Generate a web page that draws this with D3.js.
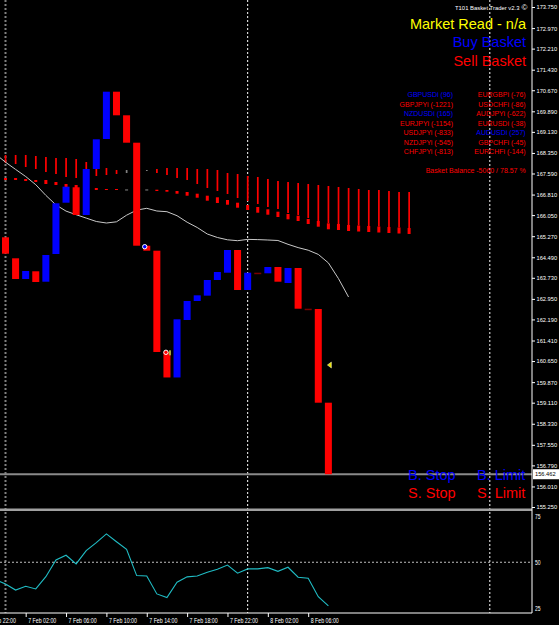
<!DOCTYPE html>
<html>
<head>
<meta charset="utf-8">
<script src="https://cdn.jsdelivr.net/npm/d3@7"></script>
<style>
    body { margin: 0; background: #000; }
    svg { display: block; font-family: "Liberation Sans", Arial, sans-serif; }
    .small { font-size: 7px; }
</style>
</head>
<body>
<div id="chart"></div>
<script>
// hourly bars, index 0 = 7 Feb 00:00
let barOpen = [165.229, 164.452, 163.686, 163.971, 163.586, 164.611, 166.509, 167.079, 166.054, 167.756,
    168.866, 170.616, 169.743, 168.729, 164.918, 164.733, 160.985, 160.043, 162.169, 162.872,
    163.07, 163.649, 163.919, 164.759, 163.279, 163.919, 163.897, 164.13, 163.538, 164.093,
    162.587, 162.576, 159.109];
let barClose = [164.622, 163.686, 163.982, 163.575, 164.574, 166.487, 167.101, 166.054, 167.756, 168.855,
    170.616, 169.743, 168.729, 164.918, 164.733, 160.985, 160.043, 162.195, 162.872, 163.082,
    163.649, 163.945, 164.759, 163.279, 163.919, 163.9, 164.13, 163.586, 164.093, 162.587,
    162.57, 159.109, 156.462];

// basket indicator: thin line (hi/lo) + short body (top/bottom), index 0..40
let sigHi = [168.274, 168.274, 168.274, 168.237, 168.2, 168.163, 168.163, 168.126, 168.015, 167.867,
    167.793, 167.719, 167.719, 167.793, 167.719, 167.756, 167.793, 167.793, 167.793, 167.756,
    167.756, 167.719, 167.608, 167.571, 167.497, 167.46, 167.386, 167.312, 167.275, 167.238,
    167.201, 167.164, 167.127, 167.09, 167.053, 167.016, 166.979, 166.979, 166.942, 166.905, 166.905];
let sigLo = [167.978, 167.941, 167.83, 167.756, 167.645, 167.571, 167.46, 167.423, 167.423, 167.497,
    167.534, 167.571, 167.608, 167.571, 167.682, 167.608, 167.534, 167.423, 167.349, 167.201,
    167.053, 166.942, 166.831, 166.683, 166.572, 166.461, 166.35, 166.276, 166.128, 166.054,
    165.943, 165.832, 165.758, 165.721, 165.684, 165.665, 165.647, 165.628, 165.61, 165.591, 165.573];
let bodyTop = [167.423, 167.423, 167.386, 167.349, 167.349, 167.275, 167.201, 167.164, 167.09, 167.053,
    167.016, 167.016, 167.0, 167.016, 167.0, 166.99, 166.979, 166.942, 166.905, 166.842,
    166.768, 166.709, 166.609, 166.509, 166.424, 166.35, 166.265, 166.176, 166.091, 166.028,
    165.906, 165.832, 165.747, 165.721, 165.684, 165.665, 165.647, 165.628, 165.61, 165.591, 165.573];
let bodyBot = [167.349, 167.349, 167.312, 167.275, 167.201, 167.164, 167.09, 167.053, 166.979, 166.979,
    166.979, 166.979, 166.961, 166.979, 166.961, 166.942, 166.916, 166.842, 166.768, 166.694,
    166.583, 166.498, 166.435, 166.324, 166.239, 166.139, 166.065, 165.98, 165.895, 165.832,
    165.721, 165.621, 165.525, 165.499, 165.462, 165.443, 165.425, 165.406, 165.388, 165.369, 165.351];
let neutralBars = [12, 13, 14];

// moving average, index -1..34
let maStart = -1;
let maValues = [168.311, 168.008, 167.741, 167.478, 167.175, 166.779, 166.428, 166.198, 166.065, 165.939,
    165.814, 165.758, 165.802, 166.047, 166.235, 166.302, 166.202, 166.176, 166.028, 165.788,
    165.592, 165.351, 165.222, 165.136, 165.103, 165.151, 165.144, 165.129, 165.111, 164.97,
    164.848, 164.752, 164.596, 164.282, 163.7, 163.02];

// oscillator in lower window, index -1..32
let oscStart = -1;
let oscValues = [40.5, 38.3, 35.0, 37.0, 35.6, 42.2, 51.2, 53.8, 49.1, 56.3,
    60.6, 65.3, 61.1, 57.0, 42.8, 42.6, 32.9, 30.9, 39.2, 42.1,
    42.6, 44.6, 46.2, 48.5, 44.1, 46.4, 46.4, 47.1, 45.1, 47.3,
    41.9, 41.4, 31.4, 26.4];
let oscTicks = [25, 50, 75];

let priceTicks = [173.75, 172.97, 172.21, 171.43, 170.67, 169.89, 169.13, 168.35, 167.59, 166.81,
    166.05, 165.27, 164.49, 163.73, 162.95, 162.19, 161.41, 160.65, 159.87, 159.11,
    158.33, 157.55, 156.79, 156.01, 155.25];
let timeTicks = [-2, 2, 6, 10, 14, 18, 22, 26, 30];
let timeLabels = ['6 Feb 22:00', '7 Feb 02:00', '7 Feb 06:00', '7 Feb 10:00', '7 Feb 14:00',
    '7 Feb 18:00', '7 Feb 22:00', '8 Feb 02:00', '8 Feb 06:00'];
let daySeparators = [24, 48];

// arrows / signals on chart: [bar index, price]
let signalBuy = [[13.8, 164.881]];
let signalSell = [[15.9, 160.974]];
let signalArrow = [[32.15, 160.504]];

let leftPairs = ['GBPUSDi (96)', 'GBPJPYi (-1221)', 'NZDUSDi (165)', 'EURJPYi (-1154)', 'USDJPYi (-833)', 'NZDJPYi (-545)', 'CHFJPYi (-813)'];
let leftPairSide = ['b', 's', 'b', 's', 's', 's', 's'];
let rightPairs = ['EURGBPi (-76)', 'USDCHFi (-86)', 'AUDJPYi (-622)', 'EURUSDi (-38)', 'AUDUSDi (257)', 'GBPCHFi (-45)', 'EURCHFi (-144)'];
let rightPairSide = ['s', 's', 's', 's', 'b', 's', 's'];

const RED = '#ff0000', BLUE = '#0000ff';

// squeeze small text to the narrow terminal font width
function narrow(sel, perChar) {
    sel.attr('textLength', function () { return this.textContent.length * perChar; })
        .attr('lengthAdjust', 'spacingAndGlyphs');
}

let svg = d3.select('#chart').append('svg')
    .attr('width', 559)
    .attr('height', 625);
svg.append('rect').attr('width', 559).attr('height', 625).attr('fill', '#000');

let defs = svg.append('defs');
defs.append('clipPath').attr('id', 'clipMain').append('rect')
    .attr('x', 0).attr('y', 0).attr('width', 532).attr('height', 508);
defs.append('clipPath').attr('id', 'clipSub').append('rect')
    .attr('x', 0).attr('y', 512).attr('width', 532).attr('height', 101);

let x = d3.scaleLinear().domain([0, 32]).range([5.5, 5.5 + 32 * 10.09]);
let y = d3.scaleLinear().domain([155.213, 174.009]).range([508, 0]);
let ySub = d3.scaleLinear().domain([22.6, 77.4]).range([613, 511.5]);

// separators (behind everything)
svg.append('line')
    .attr('x1', x(0)).attr('x2', x(0)).attr('y1', 0).attr('y2', 613)
    .attr('stroke', '#808080').attr('stroke-width', 2).attr('stroke-dasharray', '2,2');
svg.selectAll('.daysep').data(daySeparators).enter().append('line')
    .attr('x1', d => x(d)).attr('x2', d => x(d)).attr('y1', 0).attr('y2', 613)
    .attr('stroke', '#fff').attr('stroke-width', 1).attr('stroke-dasharray', '2,2');

let main = svg.append('g').attr('clip-path', 'url(#clipMain)');

// current price line
let lastPrice = barClose[barClose.length - 1];
main.append('line')
    .attr('x1', 0).attr('x2', 532).attr('y1', y(lastPrice)).attr('y2', y(lastPrice))
    .attr('stroke', '#8a8a8a').attr('stroke-width', 2);

// basket indicator
let sigIdx = d3.range(sigHi.length);
let sigColor = i => (neutralBars.includes(i) ? '#808080' : RED);
main.selectAll('.sigLine').data(sigIdx).enter().append('rect')
    .attr('x', i => x(i) - 0.8)
    .attr('width', 1.7)
    .attr('y', i => y(sigHi[i]))
    .attr('height', i => Math.max(1, y(sigLo[i]) - y(sigHi[i])))
    .attr('fill', sigColor);
main.selectAll('.sigBody').data(sigIdx).enter().append('rect')
    .attr('x', i => x(i) - 1.5)
    .attr('width', 3)
    .attr('y', i => y(bodyTop[i]))
    .attr('height', i => Math.max(1, y(bodyBot[i]) - y(bodyTop[i])))
    .attr('fill', sigColor);

// moving average
let maLine = d3.line()
    .x((d, i) => x(i + maStart))
    .y(d => y(d));
main.append('path')
    .datum(maValues)
    .attr('d', maLine)
    .attr('fill', 'none')
    .attr('stroke', '#c8c8c8')
    .attr('stroke-width', 1);

// bars
main.selectAll('.bar').data(barOpen).enter().append('rect')
    .attr('x', (d, i) => x(i) - 3.5)
    .attr('width', 7)
    .attr('y', (d, i) => y(Math.max(d, barClose[i])))
    .attr('height', (d, i) => Math.max(1.5, Math.abs(y(d) - y(barClose[i]))))
    .attr('fill', function (d, i) {
        if (Math.abs(d - barClose[i]) < 0.03) return '#7a0000';
        return barClose[i] >= d ? BLUE : RED;
    });

// signal markers
main.selectAll('.sigBuy').data(signalBuy).enter().append('circle')
    .attr('cx', d => x(d[0])).attr('cy', d => y(d[1])).attr('r', 2.2)
    .attr('fill', BLUE).attr('stroke', '#fff').attr('stroke-width', 1);
main.selectAll('.sigSell').data(signalSell).enter().append('circle')
    .attr('cx', d => x(d[0])).attr('cy', d => y(d[1])).attr('r', 2.2)
    .attr('fill', RED).attr('stroke', '#fff').attr('stroke-width', 1);
main.selectAll('.sigSellTag').data(signalSell).enter().append('rect')
    .attr('x', d => x(d[0]) + 3).attr('y', d => y(d[1]) - 2).attr('width', 2).attr('height', 5)
    .attr('fill', '#b0b040');
main.selectAll('.sigArrow').data(signalArrow).enter().append('path')
    .attr('d', function (d) {
        let cx = x(d[0]), cy = y(d[1]);
        return 'M' + (cx - 2.5) + ',' + cy + 'L' + (cx + 1.5) + ',' + (cy - 3) + 'L' + (cx + 1.5) + ',' + (cy + 3) + 'Z';
    })
    .attr('fill', '#e8e000').attr('stroke', '#ffffc0').attr('stroke-width', 0.5);

// lower window
let sub = svg.append('g').attr('clip-path', 'url(#clipSub)');
sub.append('line')
    .attr('x1', 0).attr('x2', 532).attr('y1', ySub(50)).attr('y2', ySub(50))
    .attr('stroke', '#c0c0c0').attr('stroke-width', 1).attr('stroke-dasharray', '2,2');
let oscLine = d3.line()
    .x((d, i) => x(i + oscStart))
    .y(d => ySub(d));
sub.append('path')
    .datum(oscValues)
    .attr('d', oscLine)
    .attr('fill', 'none')
    .attr('stroke', '#20bcc4')
    .attr('stroke-width', 1.1);

// window separator
svg.append('rect').attr('x', 0).attr('y', 508.5).attr('width', 532).attr('height', 2.5).attr('fill', '#a0a0a0');

// axes frame
svg.append('line').attr('x1', 532).attr('x2', 532).attr('y1', 0).attr('y2', 613).attr('stroke', '#fff');
svg.append('line').attr('x1', 0).attr('x2', 532).attr('y1', 613).attr('y2', 613).attr('stroke', '#fff');

let yAxis = d3.axisRight(y)
    .tickValues(priceTicks)
    .tickFormat(d3.format('.3f'))
    .tickSize(3)
    .tickPadding(1.5);
let gy = svg.append('g').attr('class', 'small').attr('transform', 'translate(532,0)').call(yAxis);

let subAxis = d3.axisRight(ySub)
    .tickValues(oscTicks)
    .tickFormat(d3.format('d'))
    .tickSize(0)
    .tickPadding(3);
let gs = svg.append('g').attr('class', 'small').attr('transform', 'translate(532,0)').call(subAxis);

let xAxis = d3.axisBottom(x)
    .tickValues(timeTicks)
    .tickFormat((d, i) => timeLabels[i])
    .tickSize(4)
    .tickPadding(2);
let gx = svg.append('g').attr('class', 'small').attr('transform', 'translate(0,613)').call(xAxis);
gx.selectAll('text').attr('text-anchor', 'start').attr('x', 2).attr('dy', '0.55em');

[gy, gs, gx].forEach(function (g) {
    g.select('.domain').remove();
    g.selectAll('line').attr('stroke', '#fff');
    g.selectAll('text').attr('fill', '#fff').style('font-size', '7px');
});
gy.selectAll('text').style('font-size', '6px');
narrow(gy.selectAll('text'), 2.95);
narrow(gs.selectAll('text'), 2.8);
narrow(gx.selectAll('text'), 2.55);

// current price tag
svg.append('rect')
    .attr('x', 533).attr('y', y(lastPrice) - 5).attr('width', 26).attr('height', 10)
    .attr('fill', '#fff');
svg.append('text')
    .attr('x', 535).attr('y', y(lastPrice)).attr('dy', '0.33em')
    .attr('fill', '#000').style('font-size', '6px').text(d3.format('.3f')(lastPrice))
    .call(narrow, 2.95);

// info panel texts
svg.append('text')
    .attr('x', 455).attr('y', 9.5)
    .attr('fill', '#fff').style('font-size', '6px').text('T101 Basket Trader v2.3')
    .call(narrow, 2.8);
svg.append('text')
    .attr('x', 521.5).attr('y', 10)
    .attr('fill', '#fff').style('font-size', '8px').text('\u00a9');

let bigTexts = [
    ['Market Read - n/a', 28.5, '#ffff00'],
    ['Buy Basket', 47, BLUE],
    ['Sell Basket', 66.3, RED]
];
bigTexts.forEach(function (t) {
    svg.append('text')
        .attr('x', 526).attr('y', t[1]).attr('text-anchor', 'end')
        .attr('fill', t[2]).style('font-size', '14.5px').text(t[0]);
});

leftPairs.forEach(function (p, i) {
    svg.append('text')
        .attr('x', 453).attr('y', 97.3 + i * 9.45).attr('text-anchor', 'end')
        .attr('fill', leftPairSide[i] === 'b' ? BLUE : RED)
        .style('font-size', '7px').text(p);
});
rightPairs.forEach(function (p, i) {
    svg.append('text')
        .attr('x', 525.7).attr('y', 97.3 + i * 9.45).attr('text-anchor', 'end')
        .attr('fill', rightPairSide[i] === 'b' ? BLUE : RED)
        .style('font-size', '7px').text(p);
});
svg.append('text')
    .attr('x', 525.7).attr('y', 172.6).attr('text-anchor', 'end')
    .attr('fill', RED).style('font-size', '7px').text('Basket Balance -5060 / 78.57 %');

// stop / limit labels
let slTexts = [
    ['B. Stop', 408, 479.5, BLUE],
    ['B. Limit', 477, 479.5, BLUE],
    ['S. Stop', 408, 497.5, RED],
    ['S. Limit', 477, 497.5, RED]
];
slTexts.forEach(function (t) {
    svg.append('text')
        .attr('x', t[1]).attr('y', t[2])
        .attr('fill', t[3]).style('font-size', '14.5px').text(t[0]);
});
</script>
</body>
</html>
